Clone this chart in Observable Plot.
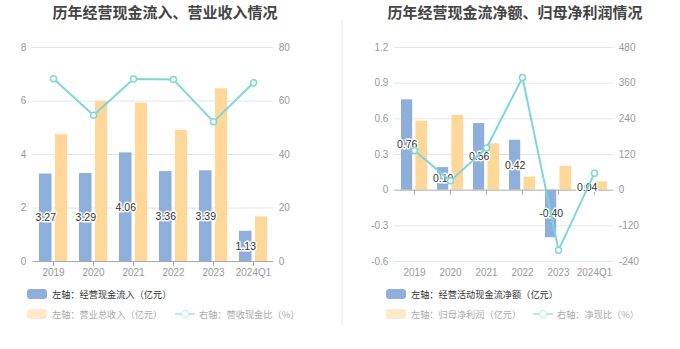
<!DOCTYPE html>
<html><head><meta charset="utf-8">
<script src="https://cdn.jsdelivr.net/npm/d3@7"></script>
<script src="https://cdn.jsdelivr.net/npm/@observablehq/plot@0.6"></script>
<style>
body{margin:0;background:#fff;font-family:"Liberation Sans","Noto Sans CJK SC",sans-serif;}
#wrap{position:relative;width:680px;height:349px;overflow:hidden;background:#fff;}
.panel{position:absolute;top:0;width:340px;height:349px;}
.title{position:absolute;top:0;height:24px;line-height:24px;text-align:center;font-size:15px;font-weight:bold;color:#444;font-family:"Noto Sans CJK SC",sans-serif;white-space:nowrap;}
.chart{position:absolute;top:30px;left:0;}
.leg{position:absolute;height:10px;font-size:9.2px;font-family:"Noto Sans CJK SC",sans-serif;display:flex;align-items:center;white-space:nowrap;}
.sw{display:inline-block;width:20px;height:10px;border-radius:3px;margin-right:5px;flex:none;}
.ln{position:relative;display:inline-block;width:20px;height:10px;margin-right:4px;flex:none;}
.ln:before{content:"";position:absolute;left:0;right:0;top:4px;height:2px;background:#b9e9eb;}
.ln:after{content:"";position:absolute;left:6px;top:1px;width:6px;height:6px;border:1.5px solid #b9e9eb;border-radius:50%;background:#fff;}
#divider{position:absolute;left:341px;top:20px;width:2px;height:305px;background:#f3f3f3;}
</style></head>
<body>
<div id="wrap">
  <div class="panel" id="p1" style="left:0">
    <div class="title" style="left:0;width:330px">历年经营现金流入、营业收入情况</div>
    <div class="chart" id="c1"></div>
    <div class="leg" style="left:27px;top:289px;color:#333"><span class="sw" style="background:#8eaedb"></span>左轴：经营现金流入（亿元）</div>
    <div class="leg" style="left:27px;top:309px;color:#aaa"><span class="sw" style="background:#ffe9c8"></span>左轴：营业总收入（亿元）</div>
    <div class="leg" style="left:175px;top:309px;color:#aaa"><span class="ln"></span>右轴：营收现金比（%）</div>
  </div>
  <div id="divider"></div>
  <div class="panel" id="p2" style="left:340px">
    <div class="title" style="left:0;width:350px">历年经营现金流净额、归母净利润情况</div>
    <div class="chart" id="c2"></div>
    <div class="leg" style="left:46px;top:289px;color:#333"><span class="sw" style="background:#8eaedb"></span>左轴：经营活动现金流净额（亿元）</div>
    <div class="leg" style="left:46px;top:309px;color:#aaa"><span class="sw" style="background:#ffe9c8"></span>左轴：归母净利润（亿元）</div>
    <div class="leg" style="left:193px;top:309px;color:#aaa"><span class="ln"></span>右轴：净现比（%）</div>
  </div>
</div>
<script>
const years = ["2019","2020","2021","2022","2023","2024Q1"];
// left chart
const cashIn = [3.27,3.29,4.06,3.36,3.39,1.13];
const revenue = [4.74,5.98,5.92,4.90,6.46,1.67];
const cashRevRatio = [68.3,54.7,68.2,68.0,52.2,66.8];
const leftTicks1 = [0,2,4,6,8];
const rightTicks1 = [0,20,40,60,80];
// right chart
const netCash = [0.76,0.19,0.56,0.42,-0.40,0.04];
const netProfit = [0.58,0.63,0.39,0.11,0.20,0.07];
const netCashRatio = [133.5,31.3,142.0,379.0,-201.8,57.2];
const leftTicks2 = [-0.6,-0.3,0,0.3,0.6,0.9,1.2];
const rightTicks2 = [-240,-120,0,120,240,360,480];

const BLUE = "#8eaedb", ORANGE = "#ffd899", CYAN = "#7fd6d9", GRID = "#e0e6f1", AXIS = "#aaa";
const font = '"Liberation Sans","Noto Sans CJK SC",sans-serif';

const d1 = years.map((y,i)=>({year:y, a:cashIn[i], b:revenue[i], r:cashRevRatio[i]}));
const d2 = years.map((y,i)=>({year:y, a:netCash[i], b:netProfit[i], r:netCashRatio[i]}));

function chart(data, opt){
  const k = opt.factor;
  return Plot.plot({
    width:340, height:250,
    marginTop:17, marginBottom:19, marginLeft:opt.ml, marginRight:66.7,
    style:{fontSize:"10px", fontFamily:font, color:"#999", background:"transparent", overflow:"visible"},
    x:{type:"band", domain:years, padding:0, axis:null},
    y:{domain:opt.domain, axis:null},
    marks:[
      Plot.ruleY(opt.lt.filter(v=>v!==0), {stroke:GRID}),
      Plot.barY(data,{x:"year", y:"a", fill:BLUE, insetLeft:opt.bi[0], insetRight:opt.bi[1]}),
      Plot.barY(data,{x:"year", y:"b", fill:ORANGE, insetLeft:opt.oi[0], insetRight:opt.oi[1]}),
      Plot.ruleY([0],{stroke:AXIS}),
      Plot.ruleX(years,{x:d=>d, y1:0, y2:-opt.tick, stroke:AXIS}),
      Plot.axisX({anchor:"bottom", tickSize:0, tickPadding:opt.xpad, fill:"#999", label:null}),
      Plot.axisY(opt.lt,{anchor:"left", tickSize:0, tickPadding:6.5, fill:"#999", label:null, tickFormat:opt.lfmt}),
      Plot.axisY(opt.rt.map(v=>v/k),{anchor:"right", tickSize:0, tickPadding:5, fill:"#999", label:null, tickFormat:d=>String(Math.round(d*k))}),
      Plot.text(data,{x:"year", y:d=>d.a/2, text:d=>d.a.toFixed(2), dx:opt.ldx, fill:"#333", stroke:"#fff", strokeWidth:3, fontSize:10.5}),
      Plot.line(data,{x:"year", y:d=>d.r/k, stroke:CYAN, strokeWidth:2}),
      Plot.dot(data,{x:"year", y:d=>d.r/k, r:3, fill:"#fff", stroke:CYAN, strokeWidth:1.5})
    ]
  });
}

document.getElementById("c1").append(chart(d1,{
  factor:10, domain:[0,8], ml:32.3, lt:leftTicks1, rt:rightTicks1,
  bi:[6,21.5], oi:[22,5.8], tick:0.19, xpad:7, ldx:-7.7,
  lfmt:d=>String(d)
}));
document.getElementById("c2").append(chart(d2,{
  factor:400, domain:[-0.6,1.2], ml:54.3, lt:leftTicks2, rt:rightTicks2,
  bi:[5,19.8], oi:[19.4,4.8], tick:0.045, xpad:7, ldx:-7.4,
  lfmt:d=>d===0?"0":d.toFixed(1)
}));
</script>
</body></html>
